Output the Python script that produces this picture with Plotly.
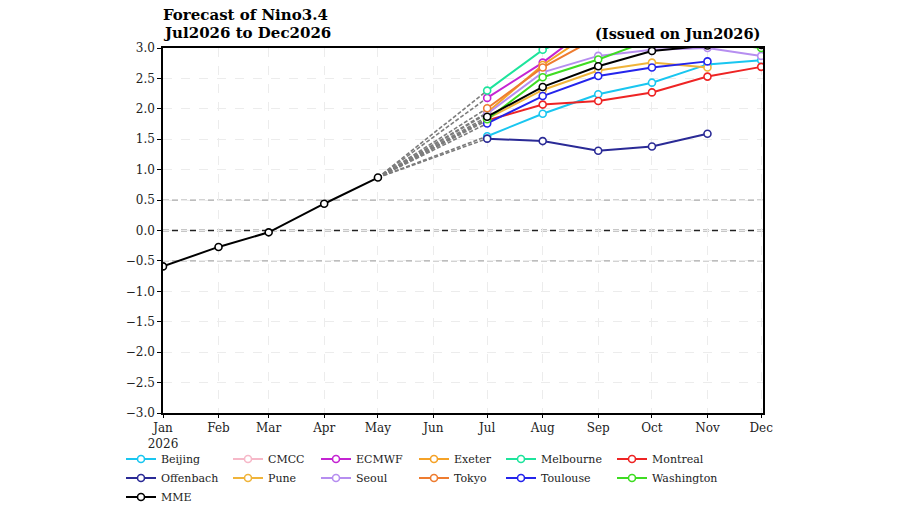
import plotly.graph_objects as go

# ---------------- data ----------------
months = ["2026-01-01", "2026-02-01", "2026-03-01", "2026-04-01", "2026-05-01", "2026-06-01",
          "2026-07-01", "2026-08-01", "2026-09-01", "2026-10-01", "2026-11-01", "2026-12-01"]
tick_labels = ["Jan<br>2026", "Feb", "Mar", "Apr", "May", "Jun",
               "Jul", "Aug", "Sep", "Oct", "Nov", "Dec"]
y_ticks = [-3.0, -2.5, -2.0, -1.5, -1.0, -0.5, 0.0, 0.5, 1.0, 1.5, 2.0, 2.5, 3.0]

obs_months = months[0:5]
obs_values = [-0.59, -0.27, -0.03, 0.44, 0.87]

fc_months = months[6:12]  # Jul .. Dec

beijing    = [1.55, 1.92, 2.24, 2.43, 2.73, 2.80]
cmcc       = [None, None, None, None, None, None]
ecmwf      = [2.18, 2.76, 3.45, None, None, None]
exeter     = [1.94, 2.72, 3.33, None, None, None]
melbourne  = [2.30, 2.97, 3.35, None, None, None]
montreal   = [1.81, 2.07, 2.13, 2.27, 2.53, 2.69]
offenbach  = [1.51, 1.47, 1.31, 1.38, 1.59, None]
pune       = [1.84, 2.31, 2.63, 2.76, 2.68, None]
seoul      = [1.92, 2.60, 2.87, 2.97, 3.00, 2.87]
tokyo      = [2.01, 2.68, 3.18, None, None, None]
toulouse   = [1.76, 2.21, 2.54, 2.68, 2.78, None]
washington = [1.83, 2.52, 2.81, 3.14, 3.10, 3.00]
mme        = [1.87, 2.36, 2.70, 2.95, 3.04, 3.05]

model_names = ["Beijing", "CMCC", "ECMWF", "Exeter", "Melbourne", "Montreal",
               "Offenbach", "Pune", "Seoul", "Tokyo", "Toulouse", "Washington", "MME"]
model_values = [beijing, cmcc, ecmwf, exeter, melbourne, montreal,
                offenbach, pune, seoul, tokyo, toulouse, washington, mme]

ref_levels = [0.5, -0.5]
zero_level = 0.0

# ---------------- styles ----------------
colors = ["#19c6f0", "#f6b8c8", "#c424d2", "#f5a227", "#1de49c", "#ee2424",
          "#2a2a96", "#f0b43a", "#b68ef0", "#ee7c30", "#2424ec", "#3edc22", "#000000"]
FONT = "DejaVu Serif"
legend_x_px = [121, 228, 316, 414, 501, 612]
L, R, T, B = 163, 137, 48, 92
W, H = 900, 505
PW, PH = W - L - R, H - T - B

fig = go.Figure()

# dashed connectors from last observation to each model's first forecast
cx, cy = [], []
for vals in model_values:
    if vals[0] is None:
        continue
    cx += [obs_months[-1], fc_months[0], None]
    cy += [obs_values[-1], vals[0], None]
fig.add_trace(go.Scatter(x=cx, y=cy, mode="lines", showlegend=False, hoverinfo="skip",
                         line=dict(color="#7c7c7c", width=1.6, dash="4px,2px")))

# observations
fig.add_trace(go.Scatter(x=obs_months, y=obs_values, mode="lines+markers", showlegend=False,
                         line=dict(color="black", width=2),
                         marker=dict(symbol="circle", size=7, color="white",
                                     line=dict(color="black", width=1.6))))

# forecasts
for i, (name, vals) in enumerate(zip(model_names, model_values)):
    col = i % 6
    leg = "legend" if col == 0 else "legend%d" % (col + 1)
    fig.add_trace(go.Scatter(x=fc_months, y=vals, name=name, mode="lines+markers",
                             legend=leg, connectgaps=False,
                             line=dict(color=colors[i], width=2),
                             marker=dict(symbol="circle", size=7, color="white",
                                         line=dict(color=colors[i], width=1.6))))

# reference lines
shapes = []
for lv in ref_levels:
    shapes.append(dict(type="line", xref="paper", x0=0, x1=1, yref="y", y0=lv, y1=lv,
                       line=dict(color="#a8a8a8", width=1.3, dash="6px,3px"), layer="below"))
shapes.append(dict(type="line", xref="paper", x0=0, x1=1, yref="y", y0=zero_level, y1=zero_level,
                   line=dict(color="#222222", width=1.4, dash="6px,3px"), layer="below"))

legend_common = dict(orientation="v", xanchor="left", yanchor="top",
                     y=(413 - 444.5) / PH,
                     bgcolor="rgba(0,0,0,0)", borderwidth=0,
                     font=dict(family=FONT, size=11, color="#222"), itemwidth=30,
                     tracegroupgap=0)
layout_legends = {}
for c, px in enumerate(legend_x_px):
    key = "legend" if c == 0 else "legend%d" % (c + 1)
    d = dict(legend_common)
    d["x"] = (px - L) / PW
    layout_legends[key] = d

annotations = [
    dict(text="<b>Forecast of Nino3.4</b>", xref="paper", yref="paper",
         x=(161 - L) / PW, y=(413 - 15) / PH, xanchor="left", yanchor="middle",
         showarrow=False, font=dict(family=FONT, size=15, color="black")),
    dict(text="<b>Jul2026 to Dec2026</b>", xref="paper", yref="paper",
         x=(161 - L) / PW, y=(413 - 33) / PH, xanchor="left", yanchor="middle",
         showarrow=False, font=dict(family=FONT, size=15, color="black")),
    dict(text="<b>(Issued on Jun2026)</b>", xref="paper", yref="paper",
         x=(762 - L) / PW, y=(413 - 33) / PH, xanchor="right", yanchor="middle",
         showarrow=False, font=dict(family=FONT, size=14.5, color="black")),
]

fig.update_layout(
    width=W, height=H,
    margin=dict(l=L, r=R, t=T, b=B, autoexpand=False),
    paper_bgcolor="white", plot_bgcolor="white",
    font=dict(family=FONT, size=12, color="#222"),
    shapes=shapes, annotations=annotations,
    **layout_legends,
)
fig.update_xaxes(type="date", range=["2026-01-01", "2026-12-02"],
                 tickmode="array", tickvals=months, ticktext=tick_labels,
                 showgrid=True, gridcolor="#ececec", griddash="dash", gridwidth=1,
                 showline=True, linecolor="black", linewidth=1.5, mirror=True,
                 ticks="outside", ticklen=3, tickcolor="black",
                 tickfont=dict(family=FONT, size=12, color="#222"), zeroline=False)
fig.update_yaxes(range=[-3.0, 3.0], tickmode="array", tickvals=y_ticks,
                 tickformat=".1f",
                 showgrid=True, gridcolor="#ececec", griddash="dash", gridwidth=1,
                 showline=True, linecolor="black", linewidth=1.5, mirror=True,
                 ticks="outside", ticklen=4, tickcolor="black",
                 tickfont=dict(family=FONT, size=12, color="#222"), zeroline=False)

fig.write_html("out.html")
